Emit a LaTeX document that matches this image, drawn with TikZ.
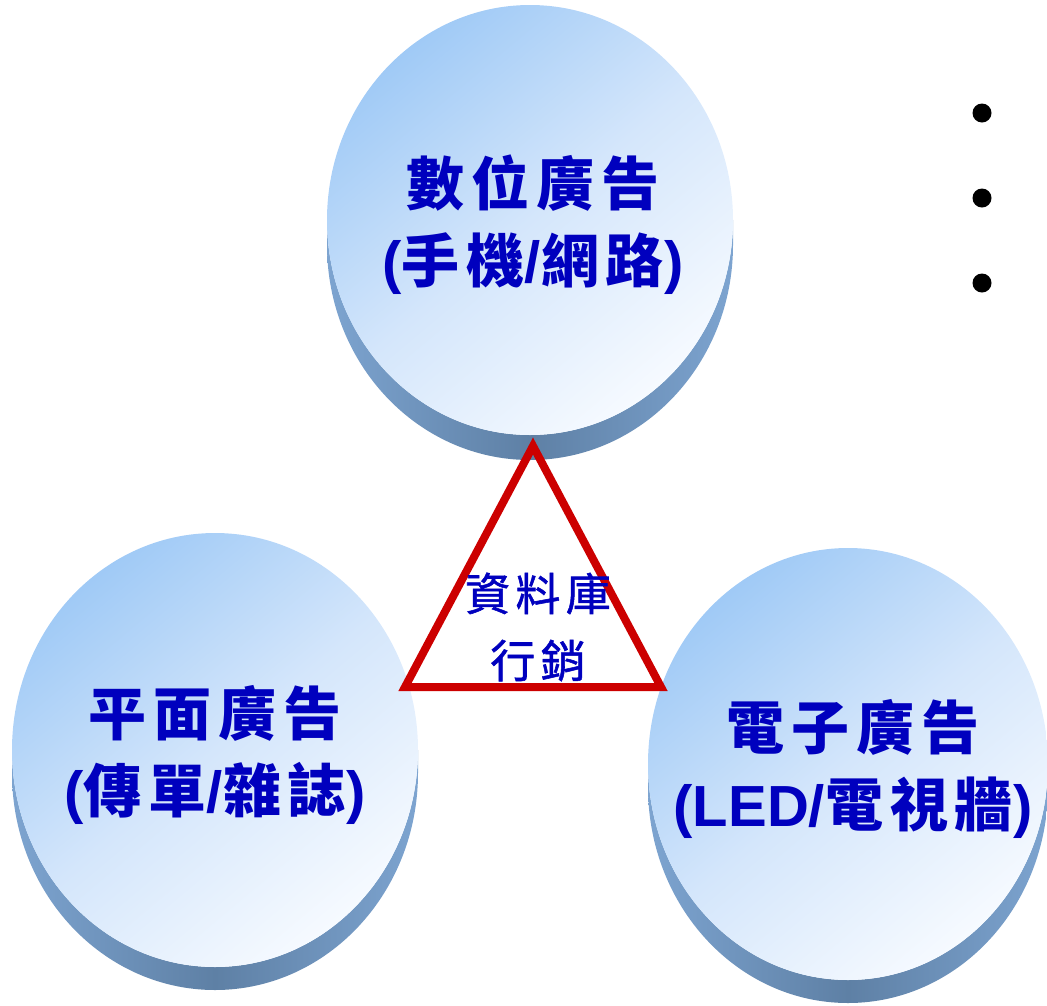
\documentclass[tikz,border=0pt]{standalone}
\usepackage{fontspec}
\newfontfamily\cjkfont[LetterSpace=12]{Noto Sans CJK TC}
\newfontfamily\cjkmedfont[LetterSpace=12, FakeBold=1.2]{Noto Sans CJK TC}
\newfontfamily\latinfont{Liberation Sans}
\newcommand\ltn[1]{{\latinfont\bfseries #1}}
\definecolor{adblue}{RGB}{0,0,190}
\definecolor{facetop}{RGB}{160,202,246}
\definecolor{facemid}{RGB}{212,230,251}
\definecolor{facelow}{RGB}{246,250,255}
\definecolor{sidedark}{RGB}{94,128,165}
\definecolor{sidelight}{RGB}{125,164,208}
\definecolor{trired}{RGB}{204,0,0}

\tikzset{
  face/.style={top color=facetop, bottom color=facelow, middle color=facemid, shading angle=40},
  side/.style={left color=sidelight, right color=sidelight, middle color=sidedark},
  adtext/.style={text=adblue, align=center, font=\cjkfont\bfseries\fontsize{58}{77}\selectfont},
  dbtext/.style={text=adblue, align=center, font=\cjkmedfont\fontsize{45}{67}\selectfont}
}

\begin{document}
\begin{tikzpicture}[x=1pt, y=-1pt]

	\useasboundingbox (0,0) rectangle (1047,1005);

	% disque du haut
	\shade[side] (327,220) -- (327,245)
		arc[start angle=180, end angle=360, x radius=203pt, y radius=215pt]
		-- (733,220)
		arc[start angle=360, end angle=180, x radius=203pt, y radius=215pt]
		-- cycle;
	\shade[face] (530,220) ellipse [x radius=203pt, y radius=215pt];

	% disque de gauche
	\shade[side] (12,750) -- (12,773)
		arc[start angle=180, end angle=360, x radius=203pt, y radius=217pt]
		-- (418,750)
		arc[start angle=360, end angle=180, x radius=203pt, y radius=217pt]
		-- cycle;
	\shade[face] (215,750) ellipse [x radius=203pt, y radius=217pt];

	% disque de droite
	\shade[side] (648,764) -- (648,787)
		arc[start angle=180, end angle=360, x radius=200pt, y radius=216pt]
		-- (1048,764)
		arc[start angle=360, end angle=180, x radius=200pt, y radius=216pt]
		-- cycle;
	\shade[face] (848,764) ellipse [x radius=200pt, y radius=216pt];

	% triangle
	\coordinate (apex) at (533,446);
	\coordinate (baseL) at (405,687);
	\coordinate (baseR) at (661,687);
	\draw[trired, line width=8pt] (apex) -- (baseL) -- (baseR) -- cycle;

	% textes
	\node[adtext] (digital) at (533,225) {數位廣告\\\ltn{(}手機\ltn{/}網路\ltn{)}};
	\node[adtext] (print) at (215,755) {平面廣告\\\ltn{(}傳單\ltn{/}雜誌\ltn{)}};
	\node[adtext] (screen) at (853,769) {電子廣告\\\ltn{(LED/}電視牆\ltn{)}};
	\node[dbtext] (database) at (538,627) {資料庫\\行銷};

	% points de suspension
	\foreach \y in {113,198,283}
		\fill (982,\y) circle [radius=9.5pt];

\end{tikzpicture}
\end{document}
